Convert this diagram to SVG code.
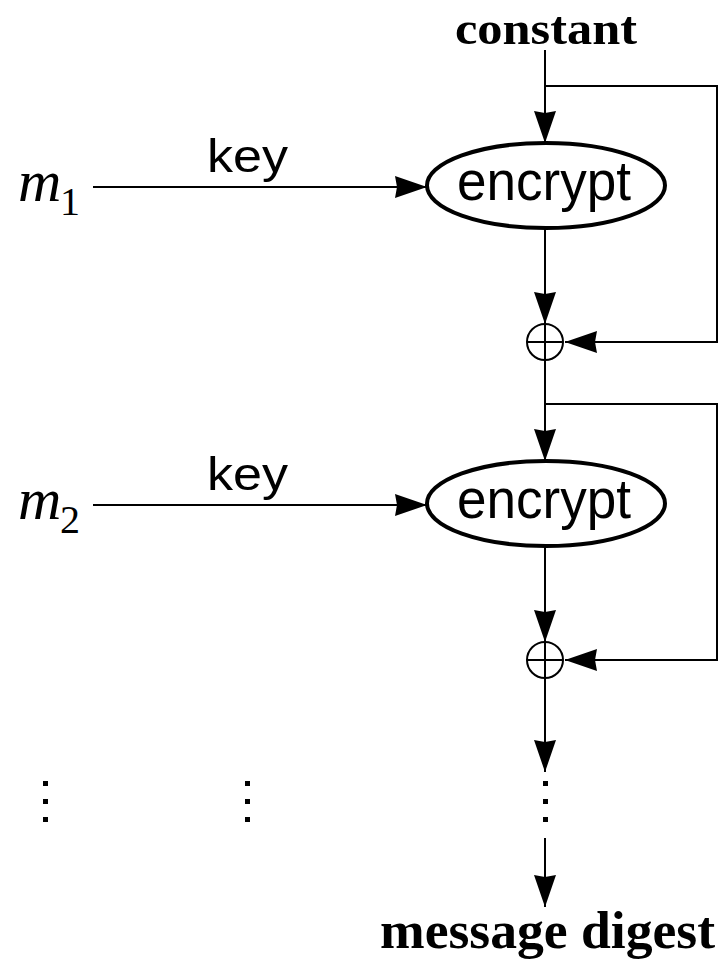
<svg xmlns="http://www.w3.org/2000/svg" width="719" height="959" viewBox="0 0 719 959">
<style>
.ln{stroke:#000;stroke-width:2;fill:none}
.ell{stroke:#000;stroke-width:4;fill:#fff}
.xor{stroke:#000;stroke-width:2;fill:#fff}
.sans{font-family:"Liberation Sans",Arial,sans-serif;fill:#000}
.serif{font-family:"Liberation Serif","Times New Roman",serif;fill:#000}
.dot{fill:#000}
</style>
<defs>
<marker id="ah" markerUnits="userSpaceOnUse" markerWidth="34" markerHeight="24" refX="32" refY="12" orient="auto">
<path d="M0,1 L32,12 L0,23 L2,12 z" fill="#000"/>
</marker>
</defs>
<rect width="719" height="959" fill="#fff"/>
<g id="connectors">
<line class="ln" x1="545" y1="50" x2="545" y2="143" marker-end="url(#ah)"/>
<polyline class="ln" points="545,86 717,86 717,342 565,342" marker-end="url(#ah)"/>
<line class="ln" x1="93" y1="187" x2="427" y2="187" marker-end="url(#ah)"/>
<line class="ln" x1="545" y1="228" x2="545" y2="324" marker-end="url(#ah)"/>
<line class="ln" x1="545" y1="360" x2="545" y2="461" marker-end="url(#ah)"/>
<polyline class="ln" points="545,404 717,404 717,660 565,660" marker-end="url(#ah)"/>
<line class="ln" x1="93" y1="505" x2="427" y2="505" marker-end="url(#ah)"/>
<line class="ln" x1="545" y1="546" x2="545" y2="642" marker-end="url(#ah)"/>
<line class="ln" x1="545" y1="678" x2="545" y2="772" marker-end="url(#ah)"/>
<line class="ln" x1="545" y1="838" x2="545" y2="907" marker-end="url(#ah)"/>
</g>
<g id="constant"><text class="serif" x="455" y="44" font-size="46" font-weight="bold" textLength="182" lengthAdjust="spacingAndGlyphs">constant</text></g>
<g id="encrypt1">
<ellipse class="ell" cx="546" cy="185.5" rx="119" ry="42.5"/>
<text class="sans" x="457" y="200" font-size="56" textLength="174" lengthAdjust="spacingAndGlyphs">encrypt</text>
</g>
<g id="xor1">
<circle class="xor" cx="545" cy="342" r="18"/>
<line class="ln" x1="527" y1="342" x2="563" y2="342" stroke-width="1.5"/>
<line class="ln" x1="545" y1="324" x2="545" y2="360" stroke-width="1.5"/>
</g>
<g id="m1">
<text class="serif" x="18" y="201" font-size="60" font-style="italic">m</text>
<text class="serif" x="60" y="215" font-size="40">1</text>
</g>
<g id="key1"><text class="sans" x="207" y="172" font-size="46" textLength="81" lengthAdjust="spacingAndGlyphs">key</text></g>
<g id="encrypt2">
<ellipse class="ell" cx="546" cy="503.5" rx="119" ry="42.5"/>
<text class="sans" x="457" y="518" font-size="56" textLength="174" lengthAdjust="spacingAndGlyphs">encrypt</text>
</g>
<g id="xor2">
<circle class="xor" cx="545" cy="660" r="18"/>
<line class="ln" x1="527" y1="660" x2="563" y2="660" stroke-width="1.5"/>
<line class="ln" x1="545" y1="642" x2="545" y2="678" stroke-width="1.5"/>
</g>
<g id="m2">
<text class="serif" x="18" y="519" font-size="60" font-style="italic">m</text>
<text class="serif" x="60" y="533" font-size="40">2</text>
</g>
<g id="key2"><text class="sans" x="207" y="490" font-size="46" textLength="81" lengthAdjust="spacingAndGlyphs">key</text></g>
<g id="dots">
<rect class="dot" x="43" y="781" width="5" height="5"/>
<rect class="dot" x="43" y="799" width="5" height="5"/>
<rect class="dot" x="43" y="817" width="5" height="5"/>
<rect class="dot" x="245" y="781" width="5" height="5"/>
<rect class="dot" x="245" y="799" width="5" height="5"/>
<rect class="dot" x="245" y="817" width="5" height="5"/>
<rect class="dot" x="543" y="781" width="5" height="5"/>
<rect class="dot" x="543" y="799" width="5" height="5"/>
<rect class="dot" x="543" y="817" width="5" height="5"/>
</g>
<g id="digest"><text class="serif" x="380" y="948" font-size="52" font-weight="bold" textLength="335" lengthAdjust="spacingAndGlyphs">message digest</text></g>
</svg>
